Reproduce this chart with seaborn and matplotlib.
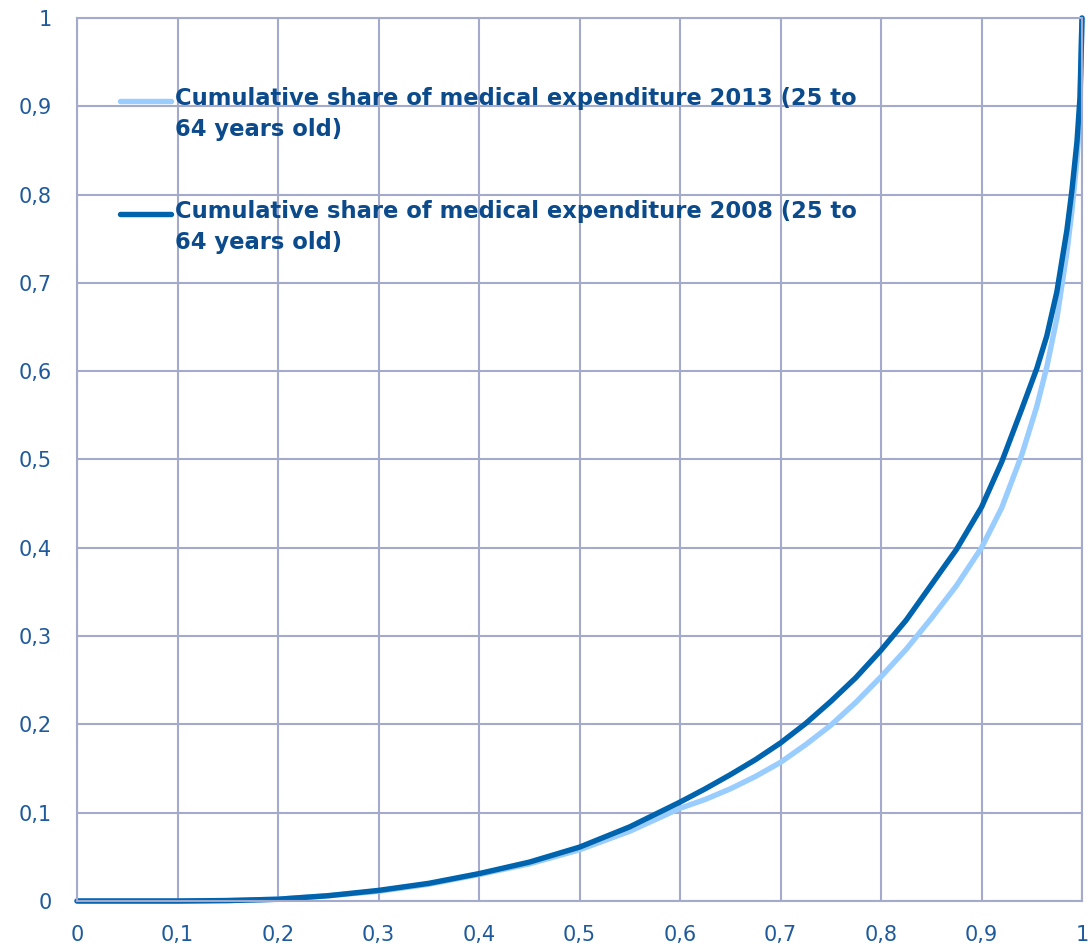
import numpy as np
import pandas as pd
import matplotlib
matplotlib.use("Agg")
import matplotlib.pyplot as plt
import seaborn as sns
from matplotlib.legend_handler import HandlerLine2D
from matplotlib.ticker import FuncFormatter, MultipleLocator

# Cumulative share of population (x) and of medical expenditure (y)
pop_share = [0.0, 0.1, 0.15, 0.2, 0.25, 0.3, 0.35, 0.4, 0.45, 0.5, 0.55, 0.6,
             0.625, 0.65, 0.675, 0.7, 0.725, 0.75, 0.775, 0.8, 0.825, 0.85,
             0.875, 0.9, 0.92, 0.94, 0.955, 0.965, 0.975, 0.985, 0.99, 0.995,
             0.998, 1.0]
exp_2008 = [0.0, 0.0, 0.0005, 0.002, 0.006, 0.012, 0.02, 0.031, 0.044, 0.061,
            0.084, 0.112, 0.127, 0.143, 0.160, 0.179, 0.201, 0.226, 0.253,
            0.284, 0.318, 0.358, 0.398, 0.446, 0.497, 0.557, 0.603, 0.64, 0.69,
            0.76, 0.805, 0.86, 0.91, 1.0]
exp_2013 = [0.0, 0.0, 0.0005, 0.002, 0.006, 0.011, 0.019, 0.030, 0.042, 0.058,
            0.079, 0.105, 0.115, 0.127, 0.141, 0.157, 0.177, 0.199, 0.225,
            0.254, 0.285, 0.320, 0.357, 0.400, 0.445, 0.505, 0.56, 0.605, 0.66,
            0.735, 0.782, 0.84, 0.895, 1.0]
label_2013 = "Cumulative share of medical expenditure 2013 (25 to\n64 years old)"
label_2008 = "Cumulative share of medical expenditure 2008 (25 to\n64 years old)"

df = pd.concat([
    pd.DataFrame({"x": pop_share, "y": exp_2013, "series": label_2013}),
    pd.DataFrame({"x": pop_share, "y": exp_2008, "series": label_2008}),
])

sns.set_style("white")
plt.rcParams["font.family"] = ["DejaVu Sans"]

grid_c = "#A3AACB"
tick_c = "#1E5A9C"
text_c = "#0B4A8B"

fig = plt.figure(figsize=(10.9, 9.5), dpi=100)
ax = fig.add_axes([77 / 1090, 1 - 901 / 950, (1082 - 77) / 1090, (901 - 18) / 950])

sns.lineplot(data=df, x="x", y="y", hue="series", ax=ax,
             palette={label_2013: "#99CCFF", label_2008: "#0063AE"},
             linewidth=3.9, sort=False, estimator=None, clip_on=False)

ax.set_xlim(0, 1)
ax.set_ylim(0, 1)
ax.xaxis.set_major_locator(MultipleLocator(0.1))
ax.yaxis.set_major_locator(MultipleLocator(0.1))
fmt = FuncFormatter(lambda v, p: ("%g" % round(v, 1)).replace(".", ","))
ax.xaxis.set_major_formatter(fmt)
ax.yaxis.set_major_formatter(fmt)
ax.grid(True, color=grid_c, linewidth=1.5)
ax.set_axisbelow(True)
for s in ax.spines.values():
    s.set_color(grid_c)
    s.set_linewidth(1.5)
ax.tick_params(axis="both", which="major", length=7, width=1.5, color=grid_c,
               labelcolor=tick_c, labelsize=15)
ax.tick_params(axis="y", pad=11)
ax.tick_params(axis="x", pad=10)
ax.set_xlabel("")
ax.set_ylabel("")


class TopHandler(HandlerLine2D):
    def create_artists(self, legend, orig_handle, xdescent, ydescent, width,
                       height, fontsize, trans):
        arts = super().create_artists(legend, orig_handle, xdescent, ydescent,
                                      width, height, fontsize, trans)
        for a in arts:
            a.set_ydata(np.asarray(a.get_ydata()) + 0.62 * fontsize)
            a.set_solid_capstyle("round")
        return arts


handles, labels = ax.get_legend_handles_labels()
order = [labels.index(label_2013), labels.index(label_2008)]
leg = ax.legend([handles[i] for i in order], [labels[i] for i in order],
                loc="upper left", bbox_to_anchor=((120 - 77) / 1005, (901 - 87) / 883),
                frameon=False, borderaxespad=0, borderpad=0,
                handlelength=2.25, handletextpad=0.2, labelspacing=2.6,
                prop={"weight": "bold", "size": 16.3},
                handler_map={h: TopHandler() for h in handles})
for t in leg.get_texts():
    t.set_color(text_c)
    t.set_linespacing(1.45)

fig.savefig("out.png", dpi=100)
